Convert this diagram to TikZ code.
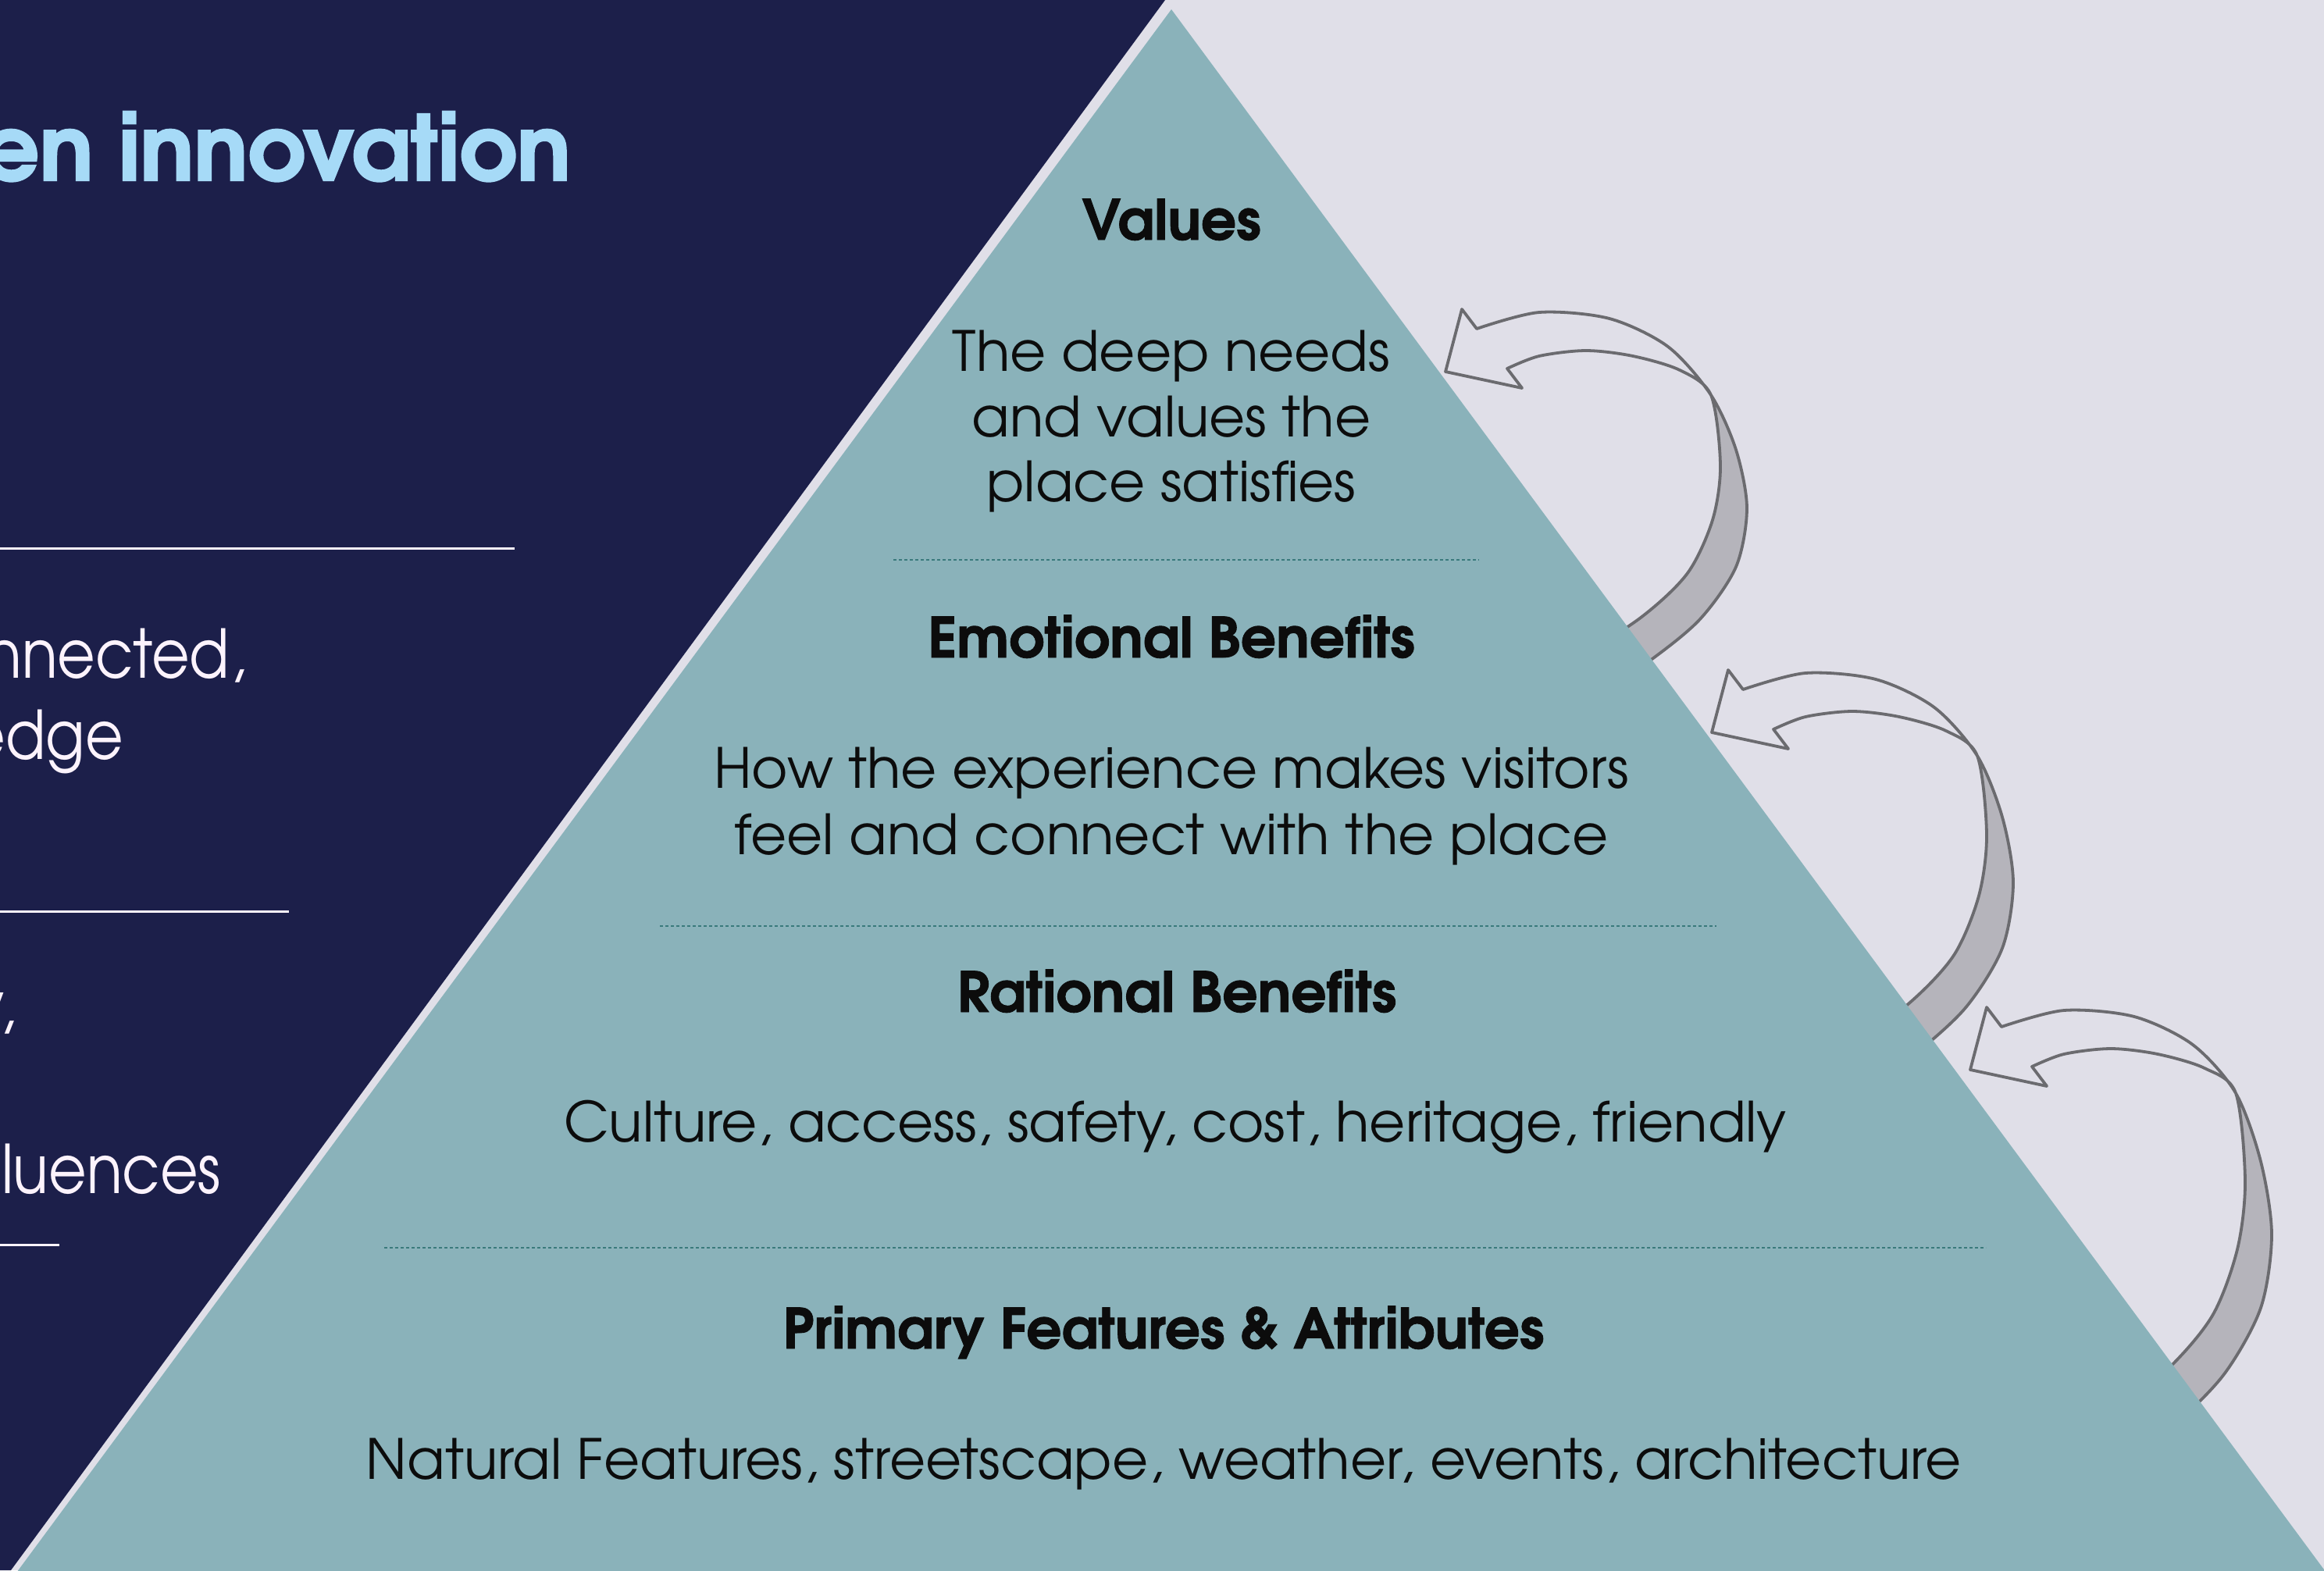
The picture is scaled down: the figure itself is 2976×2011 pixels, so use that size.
\documentclass[tikz,border=0pt]{standalone}
\usepackage{fontspec}
\newfontfamily\gothic{texgyreadventor}[Extension=.otf,UprightFont=*-regular,BoldFont=*-bold]
\newfontfamily\gothichead{texgyreadventor-bold}[Extension=.otf,FakeBold=1.2]
\newfontfamily\gothictitle{texgyreadventor-bold}[Extension=.otf,FakeBold=2]
\newfontfamily\gothicside{texgyreadventor-regular}[Extension=.otf,FakeStretch=0.87]

\definecolor{navy}{HTML}{1C1F4A}
\definecolor{mist}{HTML}{E0DFE8}
\definecolor{pyr}{HTML}{8AB2BA}
\definecolor{sky}{HTML}{A6DAF7}
\definecolor{snow}{HTML}{FCF3FC}
\definecolor{ink}{HTML}{0C0C0C}
\definecolor{tierline}{HTML}{3A7A7C}
\definecolor{loopline}{HTML}{6B6B6F}
\definecolor{loopback}{HTML}{B5B4BB}

\tikzset{
  head/.style={anchor=base, inner sep=0pt, text=ink,
    font=\gothichead\fontsize{71}{85}\selectfont},
  body/.style={anchor=base, inner sep=0pt, text=ink,
    font=\gothic\fontsize{71}{85}\selectfont},
  sidetext/.style={anchor=base east, inner sep=0pt, text=snow,
    font=\gothicside\fontsize{86}{104}\selectfont},
  sidetitle/.style={anchor=base east, inner sep=0pt, text=sky,
    font=\gothictitle\fontsize{115}{130}\selectfont},
  sideline/.style={draw=snow, line width=3pt},
  tierrule/.style={draw=tierline, line width=2.6pt, dash pattern=on 4pt off 3pt},
  loopoutline/.style={draw=loopline, line width=3.8pt, line join=round},
}

% curved block arrow: tip at (#1,#2), pointing left; #3 stretches the lower loop
\newcommand\feedbackarrow[3]{%
  \begin{scope}[shift={(#1,#2)}]
    \def\ls{#3}
    \path[save path=\looppath]
      plot[smooth] coordinates {(40,-55) (120,-76) (210,-68) (285,-32) (340,30)
        ({372},{30+70*\ls}) ({386},{30+145*\ls}) ({372},{30+220*\ls})
        ({325},{30+288*\ls}) ({255},{30+345*\ls}) ({170},{30+400*\ls})}
      -- plot[smooth] coordinates {({150},{30+350*\ls}) ({250},{30+285*\ls})
        ({310},{30+228*\ls}) ({342},{30+160*\ls}) ({352},{30+90*\ls})
        (340,30) (300,-2) (240,-20) (180,-27) (120,-20) (79,-4)}
      -- (98,21) -- (0,0) -- (21,-80) -- cycle;
    \fill[mist, use path=\looppath];
    \begin{scope}
      \clip (-200,30) rectangle (700,900);
      \fill[loopback, use path=\looppath];
    \end{scope}
    \path[loopoutline, use path=\looppath];
  \end{scope}}

\begin{document}
\begin{tikzpicture}[x=1pt,y=-1pt]
  \useasboundingbox (0,0) rectangle (2976,2011);
  \clip (0,0) rectangle (2976,2011);

  % backgrounds
  \fill[mist] (0,0) rectangle (2976,2011);
  \fill[navy] (0,0) -- (1492,0) -- (14,2011) -- (0,2011) -- cycle;

  % feedback arrows (their tails run behind the pyramid)
  \feedbackarrow{1851}{476}{1.0}
  \feedbackarrow{2192}{938}{1.12}
  \feedbackarrow{2523}{1370}{1.25}

  % pyramid
  \fill[pyr] (1500,12) -- (16,2021) -- (2984,2021) -- cycle;

  % tier separators
  \draw[tierrule] (1144,717) -- (1894,717);
  \draw[tierrule] (845,1186) -- (2198,1186);
  \draw[tierrule] (492,1598) -- (2543,1598);

  % tier texts
  \node[head] (values) at (1500,307) {Values};
  \node[body] (values1) at (1500,475) {The deep needs};
  \node[body] (values2) at (1500,559) {and values the};
  \node[body] (values3) at (1500,642) {place satisfies};

  \node[head] (emo) at (1500,842) {Emotional Benefits};
  \node[body] (emo1) at (1500,1009) {How the experience makes visitors};
  \node[body] (emo2) at (1500,1094) {feel and connect with the place};

  \node[head] (rat) at (1507,1296) {Rational Benefits};
  \node[body] (rat1) at (1505,1462) {Culture, access, safety, cost, heritage, friendly};

  \node[head] (prim) at (1490,1727) {Primary Features \& Attributes};
  \node[body] (prim1) at (1490,1894) {Natural Features, streetscape, weather, events, architecture};

  % left panel
  \node[sidetitle] (title) at (731,231) {en innovation};
  \draw[sideline] (0,702) -- (659,702);
  \node[sidetext] (s1) at (315,868) {nnected,};
  \node[sidetext] (s2) at (158,972) {edge};
  \draw[sideline] (0,1167) -- (370,1167);
  \node[sidetext] (s3) at (20,1318) {y,};
  \node[sidetext] (s4) at (283,1528) {luences};
  \draw[sideline] (0,1594) -- (76,1594);
\end{tikzpicture}
\end{document}
